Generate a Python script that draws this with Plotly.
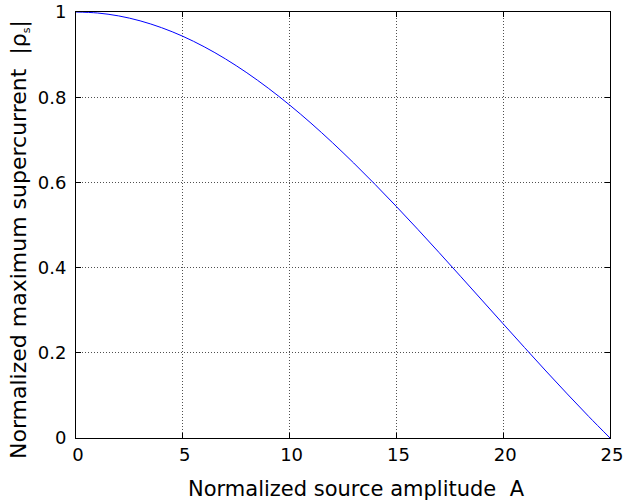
import plotly.graph_objects as go

# Normalized source amplitude A
amplitude = [0, 1, 2, 3, 4, 5, 6, 7, 8, 9, 10, 11, 12, 13, 14, 15, 16, 17, 18, 19, 20, 21, 22, 23, 24, 25]
# Normalized maximum supercurrent |rho_s|
supercurrent = [1.0, 0.9977, 0.9908, 0.9793, 0.9633, 0.9430, 0.9184, 0.8898, 0.8573, 0.8212,
                0.7817, 0.7391, 0.6936, 0.6456, 0.5954, 0.5434, 0.4899, 0.4352, 0.3797, 0.3238,
                0.2679, 0.2123, 0.1573, 0.1034, 0.0508, 0.0]

x_ticks = [0, 5, 10, 15, 20, 25]
x_tick_text = ["0", "5", "10", "15", "20", "25"]
y_ticks = [0, 0.2, 0.4, 0.6, 0.8, 1]
y_tick_text = ["0", "0.2", "0.4", "0.6", "0.8", "1"]

x_title = "Normalized source amplitude  A"
y_title = "Normalized maximum supercurrent  |ρ<sub><span style='font-size:11px'>s</span></sub>|"

fig = go.Figure()
fig.add_trace(go.Scatter(x=amplitude, y=supercurrent, mode="lines",
                         line=dict(color="#0000FF", width=1, shape="spline"),
                         showlegend=False, hoverinfo="skip"))

font_family = "DejaVu Sans, Liberation Sans, sans-serif"
axis_common = dict(
    showline=True, linecolor="black", linewidth=1, mirror="allticks",
    ticks="inside", ticklen=5, tickcolor="black", tickwidth=1,
    showgrid=True, gridcolor="#505050", gridwidth=1, griddash="1px,2px",
    zeroline=False, tickfont=dict(family=font_family, size=18, color="black"),
    ticklabeloverflow="allow",
)

fig.update_xaxes(range=[0, 25], tickvals=x_ticks, ticktext=x_tick_text,
                 ticklabelshift=2, **axis_common)
fig.update_yaxes(range=[0, 1], tickvals=y_ticks, ticktext=y_tick_text,
                 ticklabelstandoff=5, **axis_common)

fig.add_annotation(text=x_title, xref="paper", yref="paper", x=0.526, y=-0.1197,
                   xanchor="center", yanchor="middle", showarrow=False,
                   font=dict(family=font_family, size=21, color="black"))
fig.add_annotation(text=y_title, xref="paper", yref="paper", x=-0.105, y=0.467,
                   xanchor="center", yanchor="middle", showarrow=False, textangle=-90,
                   font=dict(family=font_family, size=22, color="black"))

fig.update_layout(width=624, height=504, margin=dict(l=76, r=14, t=12, b=66, autoexpand=False),
                  plot_bgcolor="white", paper_bgcolor="white")

# remove the default page margin so the figure fills the window exactly
fig.write_html("out.html", config={"displayModeBar": False},
               post_script="document.body.style.margin='0';document.body.style.overflow='hidden';")
